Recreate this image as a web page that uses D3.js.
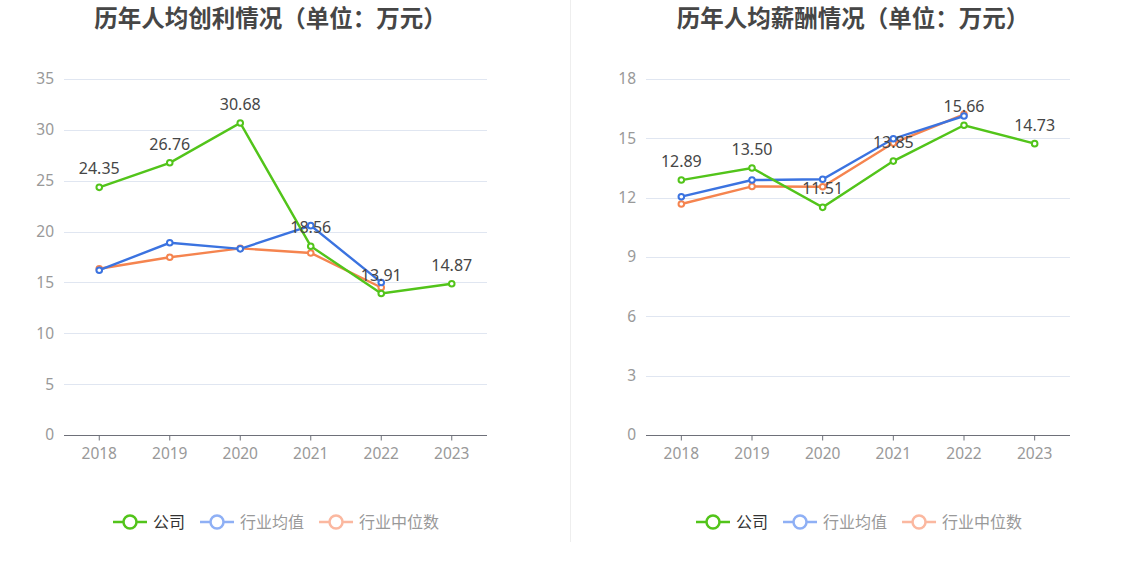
<!DOCTYPE html>
<html>
<head>
<meta charset="utf-8">
<script src="https://cdn.jsdelivr.net/npm/d3@7/dist/d3.min.js"></script>
<style>
  body { margin: 0; background: #fff; }
  svg text { font-family: "Noto Sans CJK SC", "Noto Sans", sans-serif; }
</style>
</head>
<body>
<svg id="chart" width="1134" height="582"></svg>
<script>
// years on the x axis
const years = ["2018", "2019", "2020", "2021", "2022", "2023"];

// left chart: profit per employee
const profitCompany = [24.35, 26.76, 30.68, 18.56, 13.91, 14.87];
const profitAvg = [16.2, 18.9, 18.3, 20.58, 15.0, null];
const profitMedian = [16.35, 17.47, 18.35, 17.9, 14.5, null];
const profitTicks = [0, 5, 10, 15, 20, 25, 30, 35];

// right chart: salary per employee
const salaryCompany = [12.89, 13.50, 11.51, 13.85, 15.66, 14.73];
const salaryAvg = [12.05, 12.89, 12.93, 14.98, 16.13, null];
const salaryMedian = [11.68, 12.57, 12.55, 14.76, 16.21, null];
const salaryTicks = [0, 3, 6, 9, 12, 15, 18];

const legendNames = ["公司", "行业均值", "行业中位数"];
const colors = ["#52c41a", "#3b73e0", "#f5844f"];
const legendIconColors = ["#52c41a", "#8fb0f5", "#fbb8a0"];
const legendTextColors = ["#333", "#999", "#999"];

const svg = d3.select("#chart");

// divider between the two charts
svg.append("line")
  .attr("x1", 570.5).attr("x2", 570.5)
  .attr("y1", 0).attr("y2", 542)
  .attr("stroke", "#eeeeee");

function drawChart(opts) {
  const g = svg.append("g");
  const top = 79, bottom = 435;

  const x = d3.scaleBand()
    .domain(years)
    .range([opts.left, opts.right]);

  const y = d3.scaleLinear()
    .domain([0, d3.max(opts.ticks)])
    .range([bottom, top]);

  // title
  g.append("text")
    .attr("x", (opts.left + opts.right) / 2 - 5)
    .attr("y", 27)
    .attr("text-anchor", "middle")
    .attr("font-size", 23.5)
    .attr("font-weight", "bold")
    .attr("fill", "#464646")
    .text(opts.title);

  // grid lines
  g.selectAll(".grid")
    .data(opts.ticks.filter(t => t > 0))
    .enter()
    .append("line")
    .attr("x1", opts.left).attr("x2", opts.right)
    .attr("y1", d => Math.round(y(d)) + 0.5)
    .attr("y2", d => Math.round(y(d)) + 0.5)
    .attr("stroke", "#e0e6f1");

  // y axis labels
  const yAxis = g.append("g")
    .attr("transform", `translate(${opts.left},0)`)
    .call(d3.axisLeft(y).tickValues(opts.ticks).tickSize(0).tickPadding(10));
  yAxis.select(".domain").remove();
  yAxis.selectAll("text")
    .attr("fill", "#999")
    .attr("font-size", 15.5)
    .style("font-family", "'Noto Sans', sans-serif");

  // x axis
  const xAxis = g.append("g")
    .attr("transform", `translate(0,${bottom + 0.5})`)
    .call(d3.axisBottom(x).tickSize(5).tickPadding(7));
  xAxis.select(".domain").attr("stroke", "#6e7079").attr("d", `M${opts.left},0H${opts.right}`);
  xAxis.selectAll(".tick line").attr("stroke", "#6e7079");
  xAxis.selectAll("text")
    .attr("fill", "#999")
    .attr("font-size", 15.5)
    .style("font-family", "'Noto Sans', sans-serif");

  const cx = d => x(d) + x.bandwidth() / 2;
  const line = d3.line()
    .defined(d => d.v != null)
    .x(d => cx(d.year))
    .y(d => y(d.v));

  // draw series back to front: median, average, company
  [2, 1, 0].forEach(i => {
    const pts = years.map((yr, j) => ({ year: yr, v: opts.series[i][j] }));
    g.append("path")
      .datum(pts)
      .attr("fill", "none")
      .attr("stroke", colors[i])
      .attr("stroke-width", 2.4)
      .attr("d", line);
    g.selectAll(".pt" + i)
      .data(pts.filter(d => d.v != null))
      .enter()
      .append("circle")
      .attr("cx", d => cx(d.year))
      .attr("cy", d => y(d.v))
      .attr("r", 2.8)
      .attr("fill", "#fff")
      .attr("stroke", colors[i])
      .attr("stroke-width", 2);
  });

  // value labels for the company series
  g.selectAll(".lbl")
    .data(years.map((yr, j) => ({ year: yr, v: opts.series[0][j] })))
    .enter()
    .append("text")
    .attr("x", d => cx(d.year))
    .attr("y", d => y(d.v) - 13)
    .attr("text-anchor", "middle")
    .attr("font-size", 16)
    .attr("fill", "#464646")
    .style("font-family", "'Noto Sans', sans-serif")
    .text(d => d.v.toFixed(2));

  // legend
  const lg = g.append("g").attr("transform", `translate(${opts.legendX},522)`);
  let offset = 0;
  legendNames.forEach((name, i) => {
    const item = lg.append("g").attr("transform", `translate(${offset},0)`);
    item.append("line")
      .attr("x1", 0).attr("x2", 34)
      .attr("y1", 0).attr("y2", 0)
      .attr("stroke", legendIconColors[i])
      .attr("stroke-width", 2.5);
    item.append("circle")
      .attr("cx", 17).attr("cy", 0).attr("r", 6.5)
      .attr("fill", "#fff")
      .attr("stroke", legendIconColors[i])
      .attr("stroke-width", 2.5);
    const t = item.append("text")
      .attr("x", 40).attr("y", 5.5)
      .attr("font-size", 16)
      .attr("fill", legendTextColors[i])
      .text(name);
    offset += 40 + t.node().getComputedTextLength() + 15;
  });
}

drawChart({
  title: "历年人均创利情况（单位：万元）",
  left: 64, right: 487,
  ticks: profitTicks,
  series: [profitCompany, profitAvg, profitMedian],
  legendX: 113
});

drawChart({
  title: "历年人均薪酬情况（单位：万元）",
  left: 646, right: 1070,
  ticks: salaryTicks,
  series: [salaryCompany, salaryAvg, salaryMedian],
  legendX: 696
});
</script>
</body>
</html>
